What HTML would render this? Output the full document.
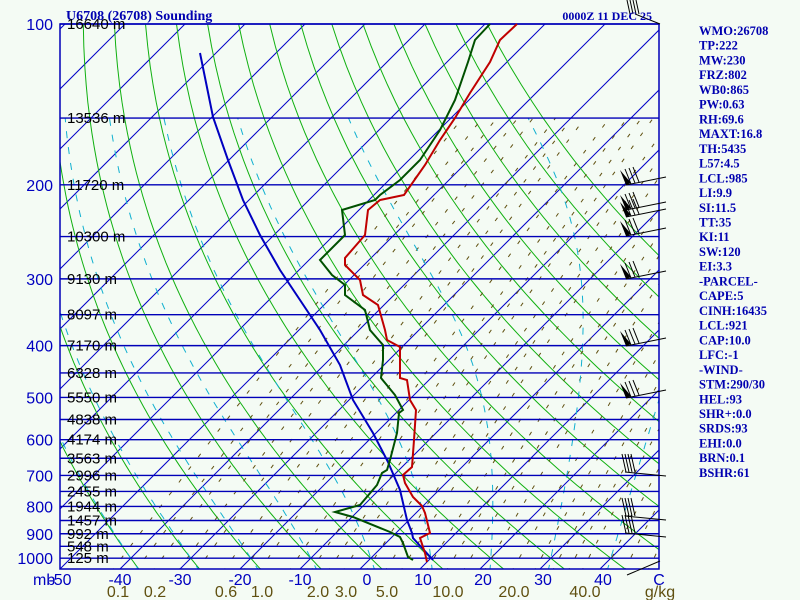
<!DOCTYPE html>
<html><head><meta charset="utf-8"><style>
body{margin:0;background:#f4fbf4;}
svg{display:block}
</style></head><body>
<svg id="s" width="800" height="600" xmlns="http://www.w3.org/2000/svg">
<rect width="800" height="600" fill="#f4fbf4"/>
<defs><clipPath id="c"><rect x="60" y="24" width="599" height="545"/></clipPath></defs>
<g id="grid" clip-path="url(#c)"></g>
<g id="snd"></g>
<g font-family="Liberation Serif, serif" font-weight="bold" font-size="12" fill="#0000b0">
<text x="66" y="20" font-size="14">U6708 (26708) Sounding</text>
<text x="652" y="20" text-anchor="end">0000Z 11 DEC 25</text>
</g>
<g id="rt" font-family="Liberation Serif, serif" font-weight="bold" font-size="12.5" fill="#0000b0"></g>
<g id="lab"></g>
</svg>
<script>
const NS="http://www.w3.org/2000/svg";
function el(parent,tag,attrs,txt){const e=document.createElementNS(NS,tag);for(const k in attrs)e.setAttribute(k,attrs[k]);if(txt!==undefined)e.textContent=txt;document.getElementById(parent).appendChild(e);return e;}
const Y=p=>24+232*Math.log(p/100);
const X=(T,p)=>60+(T+50)*6+(569-Y(p));
function pts(arr){return arr.map(a=>a[0].toFixed(1)+","+a[1].toFixed(1)).join(" ");}
for(let T=-150;T<=50;T+=10){const x0=60+(T+50)*6;el("grid","line",{x1:x0,y1:569,x2:x0+545,y2:24,stroke:"#0000c8","stroke-width":1});}
for(let th=-40;th<=120;th+=10){const a=[];for(let p=1060;p>=95;p-=10){const T=(th+273.15)*Math.pow(p/1000,0.286)-273.15;a.push([X(T,p),Y(p)]);}
el("grid","polyline",{points:pts(a),fill:"none",stroke:"#10b010","stroke-width":1});}
function es(T){return 6.112*Math.exp(17.67*T/(T+243.5));}
[0.1,0.15,0.2,0.3,0.4,0.6,0.8,1,1.5,2,2.5,3,4,5,6,8,10,12,15,20,25,30,35,40,50,60,75].forEach(w=>{const a=[];for(let p=1060;p>=150;p-=10){const e=w*p/(622+w);const l=Math.log(e/6.112);const T=243.5*l/(17.67-l);a.push([X(T,p),Y(p)]);}
el("grid","polyline",{points:pts(a),fill:"none",stroke:"#605010","stroke-width":1,"stroke-dasharray":"4 12"});});
function dTdp(T,p){const Tk=T+273.15;const e=es(T);const rs=0.622*e/(p-e);const Lv=2.5e6,Rd=287,cp=1005;return (Rd*Tk+Lv*rs)/(p*(cp+Lv*Lv*rs*0.622/(Rd*Tk*Tk)));}
for(let tw=-40;tw<=50;tw+=10){const a=[];let T=tw,p=1000;const down=[];let t2=tw;for(let q=1000;q<=1060;q+=5){down.push([X(t2,q),Y(q)]);t2+=dTdp(t2,q)*5;}
down.reverse().forEach(d=>a.push(d));
for(p=1000;p>=150;p-=5){a.push([X(T,p),Y(p)]);T-=dTdp(T,p)*5;}
el("grid","polyline",{points:pts(a),fill:"none",stroke:"#10b0d0","stroke-width":1,"stroke-dasharray":"7 9"});}
const H=[[100,"16640"],[150,"13536"],[200,"11720"],[250,"10300"],[300,"9130"],[350,"8097"],[400,"7170"],[450,"6328"],[500,"5550"],[550,"4838"],[600,"4174"],[650,"3563"],[700,"2996"],[750,"2455"],[800,"1944"],[850,"1457"],[900,"992"],[950,"548"],[1000,"125"]];
H.forEach(h=>{const y=Y(h[0]);el("snd","line",{x1:60,y1:y,x2:659,y2:y,stroke:"#0000b8","stroke-width":1.4});
el("lab","text",{x:67,y:y+5,"font-family":"Liberation Sans, sans-serif","font-size":15,fill:"#000"},h[1]+" m");});
el("snd","rect",{x:60,y:24,width:599,height:545,fill:"none",stroke:"#0000b8","stroke-width":1.5});
[100,200,300,400,500,600,700,800,900,1000].forEach(p=>el("lab","text",{x:53,y:Y(p)+6,"text-anchor":"end","font-family":"Liberation Sans, sans-serif","font-size":16,fill:"#0000c0"},p));
el("lab","text",{x:33,y:585,"font-family":"Liberation Sans, sans-serif","font-size":16,fill:"#0000c0"},"mb");
[[-50,60],[-40,120],[-30,180],[-20,240],[-10,300],[0,367],[10,423],[20,483],[30,543],[40,603]].forEach(t=>el("lab","text",{x:t[1],y:585,"text-anchor":"middle","font-family":"Liberation Sans, sans-serif","font-size":16,fill:"#0000c0"},t[0]));
el("lab","text",{x:659,y:585,"text-anchor":"middle","font-family":"Liberation Sans, sans-serif","font-size":16,fill:"#0000c0"},"C");
[["0.1",118],["0.2",155],["0.6",226],["1.0",262],["2.0",318],["3.0",346],["5.0",387],["10.0",448],["20.0",514],["40.0",585],["g/kg",660]].forEach(t=>el("lab","text",{x:t[1],y:597,"text-anchor":"middle","font-family":"Liberation Sans, sans-serif","font-size":16,fill:"#605010"},t[0]));
const red=[[517,24],[500,40],[490,62],[470,93],[455,118],[440,140],[425,165],[404,195],[380,200],[368,210],[365,235],[345,258],[345,265],[360,280],[363,295],[378,305],[385,330],[387,340],[400,347],[400,378],[407,380],[410,400],[416,410],[414,440],[412,467],[403,475],[405,483],[413,497],[422,506],[425,513],[430,533],[420,538],[425,553],[427,562]];
const grn=[[490,24],[475,40],[468,62],[455,100],[440,130],[420,160],[400,180],[380,195],[375,200],[342,210],[345,235],[330,250],[320,260],[332,275],[345,285],[345,295],[365,310],[370,330],[383,345],[383,360],[381,378],[395,395],[403,410],[399,413],[397,433],[390,460],[387,470],[382,473],[377,485],[360,505],[335,512],[353,517],[390,532],[400,537],[403,543],[408,557],[413,560]];
const blu=[[200,53],[213,117],[228,160],[243,200],[260,235],[280,270],[300,300],[320,330],[340,365],[353,400],[373,433],[388,462],[400,490],[407,520],[412,533],[413,538],[433,560]];
el("snd","polyline",{points:pts(blu),fill:"none",stroke:"#0000c0","stroke-width":2});
el("snd","polyline",{points:pts(red),fill:"none",stroke:"#c00000","stroke-width":2});
el("snd","polyline",{points:pts(grn),fill:"none",stroke:"#005000","stroke-width":2});
function barb(y,pen,n){const ex=626,ey=y+8;el("snd","line",{x1:666,y1:y,x2:ex,y2:ey,stroke:"#000","stroke-width":1});
if(pen)el("snd","polygon",{points:`${ex},${ey} ${ex-6},${ey-15} ${ex+5},${ey-2}`,fill:"#000"});
for(let k=0;k<n;k++){const bx=ex+5+k*4,by=ey-1-k;el("snd","line",{x1:bx,y1:by,x2:bx-6,y2:by-15,stroke:"#000","stroke-width":1});}}
[177,202,209,228,271,338,390].forEach(y=>barb(y,true,3));
[476,520,537].forEach(y=>{el("snd","line",{x1:666,y1:y,x2:625,y2:y-4,stroke:"#000","stroke-width":1});for(let k=0;k<4;k++){el("snd","line",{x1:626+k*3,y1:y-4,x2:622+k*3,y2:y-22,stroke:"#000","stroke-width":1});}});
el("snd","line",{x1:660,y1:561,x2:627,y2:575,stroke:"#000","stroke-width":1});
el("snd","line",{x1:660,y1:24,x2:635,y2:14,stroke:"#000","stroke-width":1});
for(let k=0;k<4;k++)el("snd","line",{x1:630+k*3,y1:14,x2:627+k*3,y2:0,stroke:"#000","stroke-width":1});
["WMO:26708","TP:222","MW:230","FRZ:802","WB0:865","PW:0.63","RH:69.6","MAXT:16.8","TH:5435","L57:4.5","LCL:985","LI:9.9","SI:11.5","TT:35","KI:11","SW:120","EI:3.3","-PARCEL-","CAPE:5","CINH:16435","LCL:921","CAP:10.0","LFC:-1","-WIND-","STM:290/30","HEL:93","SHR+:0.0","SRDS:93","EHI:0.0","BRN:0.1","BSHR:61"].forEach((t,i)=>el("rt","text",{x:699,y:35+i*14.73},t));
</script>
</body></html>
